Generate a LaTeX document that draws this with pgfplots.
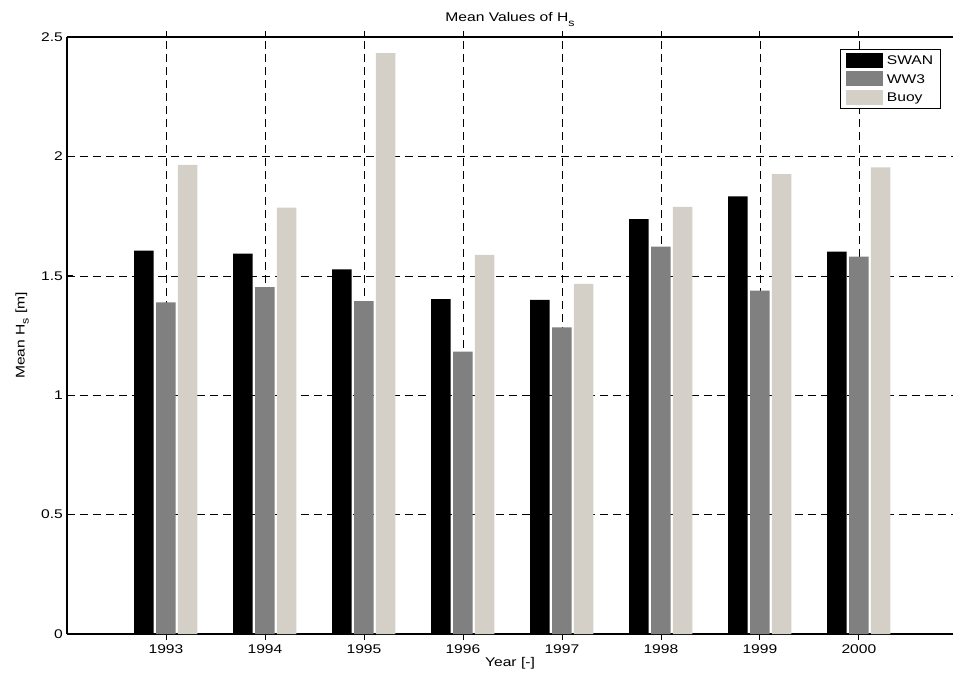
\documentclass[border=0pt]{standalone}
\usepackage{fontspec}
\setmainfont{Liberation Sans}[FakeStretch=1.24]
\usepackage{pgfplots}
\pgfplotsset{compat=1.18}

\definecolor{swan}{RGB}{0,0,0}
\definecolor{wwthree}{RGB}{128,128,128}
\definecolor{buoy}{RGB}{212,208,200}

% Yearly mean significant wave height
\begin{document}
\fontsize{12.6pt}{15pt}\selectfont
\begin{tikzpicture}
\begin{axis}[
  scale only axis,
  width=886pt, height=597pt,
  xmin=1992, xmax=2000.95,
  ymin=0, ymax=2.5,
  axis x line=box, axis y line=left,
  axis line style={-, line width=1.1pt},
  xtick={1993,...,2000},
  ytick={0,0.5,1,1.5,2,2.5},
  /pgf/number format/assume math mode=true,
  /pgf/number format/1000 sep={},
  tick align=inside,
  major tick length=6pt,
  tick style={black, line width=0.8pt},
  xticklabel style={inner sep=0pt, anchor=north, yshift=-4pt},
  yticklabel style={inner sep=0pt, anchor=east, xshift=-4pt},
  grid=major,
  major grid style={black, line width=0.6pt, dash pattern=on 8pt off 5pt},
  xlabel={Year [-]},
  xlabel style={at={(axis description cs:0.5,0)}, anchor=north, inner sep=0pt, yshift=-23pt},
  ylabel={Mean H\raisebox{-4pt}{\fontsize{10pt}{10pt}\selectfont s} [m]},
  ylabel style={at={(axis description cs:0,0.5)}, anchor=south, inner sep=0pt, yshift=38pt},
  title={Mean Values of H\raisebox{-5pt}{\fontsize{10pt}{10pt}\selectfont s}},
  title style={at={(axis description cs:0.5,1)}, anchor=base, inner sep=0pt, yshift=10pt},
  ybar,
  bar width=0.197,
  legend image code/.code={\fill[#1] (0pt,-3pt) rectangle (37pt,12pt);},
  legend style={at={(0.986,0.98)}, anchor=north east, draw=black, line width=0.8pt,
    inner xsep=6pt, inner ysep=3.5pt, row sep=3.5pt, column sep=3pt,
    nodes={inner sep=1pt, anchor=base west}},
  legend cell align=left,
]
\addplot[fill=swan, draw=none, bar shift=-0.224] coordinates {
  (1993,1.605) (1994,1.593) (1995,1.527) (1996,1.402)
  (1997,1.399) (1998,1.737) (1999,1.833) (2000,1.601)};
\addplot[fill=wwthree, draw=none, bar shift=0] coordinates {
  (1993,1.389) (1994,1.453) (1995,1.394) (1996,1.182)
  (1997,1.284) (1998,1.622) (1999,1.438) (2000,1.580)};
\addplot[fill=buoy, draw=none, bar shift=0.218] coordinates {
  (1993,1.964) (1994,1.785) (1995,2.433) (1996,1.588)
  (1997,1.466) (1998,1.789) (1999,1.926) (2000,1.954)};
\legend{SWAN, WW3, Buoy}
\coordinate (O) at (rel axis cs:0,0);
\end{axis}
\pgfresetboundingbox
\path[use as bounding box] (O) ++(-67pt,-39pt) rectangle ++(953pt,673pt);
\end{tikzpicture}
\end{document}
